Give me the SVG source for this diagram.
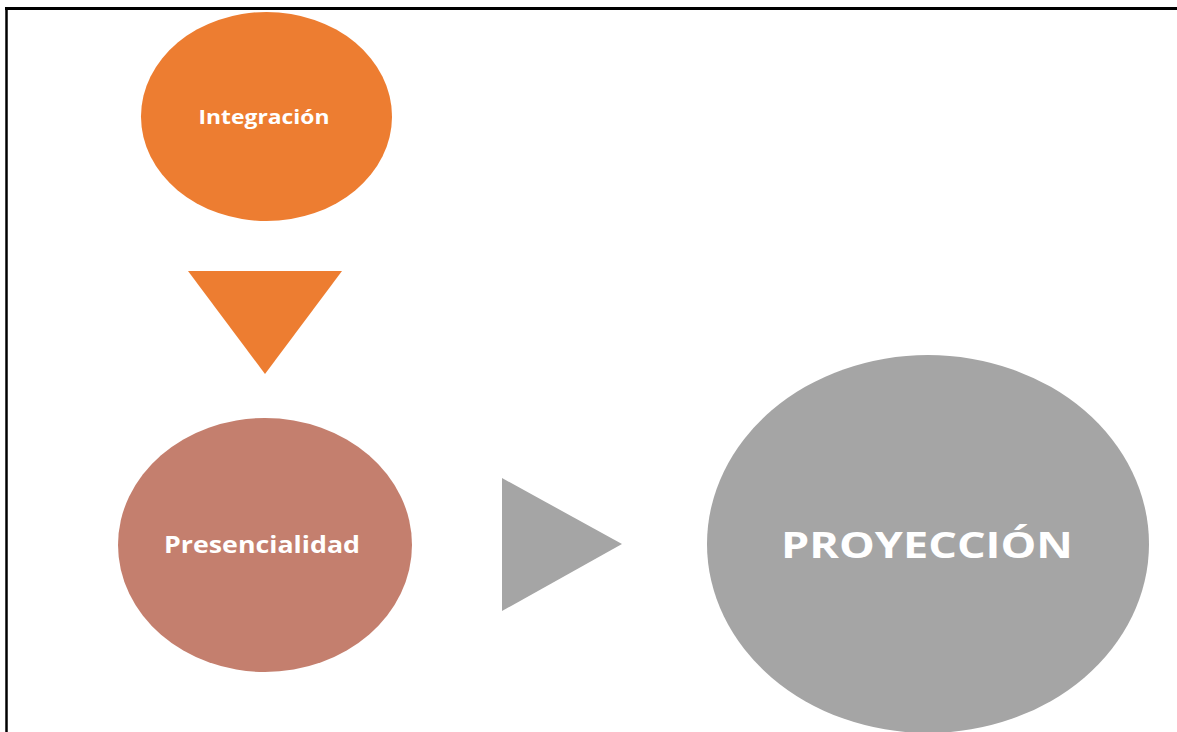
<svg xmlns="http://www.w3.org/2000/svg" width="1177" height="732" viewBox="0 0 1177 732">
<style>
.lbl{font-family:"Open Sans","Liberation Sans",sans-serif;font-weight:bold;fill:#ffffff;text-anchor:middle}
.frame{stroke:#000;fill:none}
</style>
<rect width="1177" height="732" fill="#ffffff"/>
<g id="frame">
<line class="frame" x1="5" y1="8.5" x2="1177" y2="8.5" stroke-width="3"/>
<line class="frame" x1="6.5" y1="7" x2="6.5" y2="732" stroke-width="2.5"/>
</g>
<g id="connectors">
<polygon id="arrow-down" points="188,271 342,271 265,374" fill="#ED7D31"/>
<polygon id="arrow-right" points="502,478 502,611 622,544" fill="#A5A5A5"/>
</g>
<g id="integracion">
<ellipse cx="266.5" cy="116.5" rx="125.5" ry="104.5" fill="#ED7D31"/>
<text class="lbl" x="264" y="124" font-size="20" textLength="131" lengthAdjust="spacingAndGlyphs">Integración</text>
</g>
<g id="presencialidad">
<ellipse cx="265" cy="545" rx="147" ry="127" fill="#C47F6E"/>
<text class="lbl" x="262" y="553" font-size="23" textLength="196" lengthAdjust="spacingAndGlyphs">Presencialidad</text>
</g>
<g id="proyeccion">
<ellipse cx="928" cy="544" rx="221" ry="189" fill="#A5A5A5"/>
<text class="lbl" x="927" y="558" font-size="36" textLength="292" lengthAdjust="spacingAndGlyphs">PROYECCIÓN</text>
</g>
</svg>
